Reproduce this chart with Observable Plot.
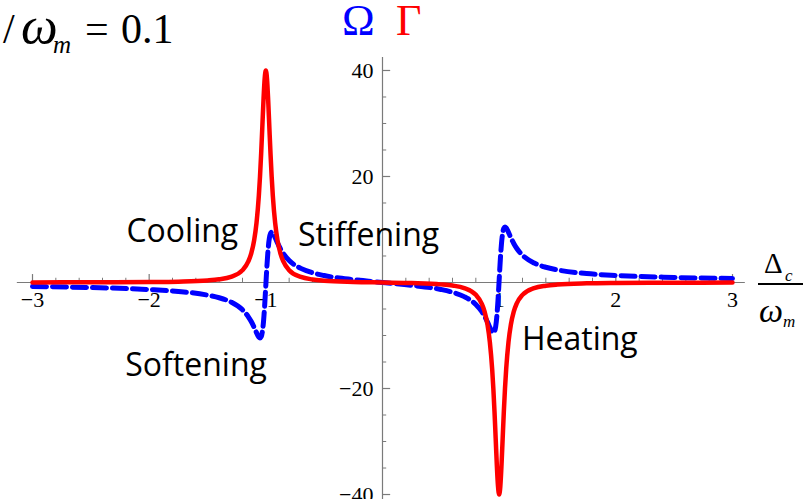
<!DOCTYPE html>
<html><head><meta charset="utf-8">
<script src="https://cdn.jsdelivr.net/npm/d3@7"></script>
<script src="https://cdn.jsdelivr.net/npm/@observablehq/plot@0.6"></script>
<style>body{margin:0;background:#fff}#chart{width:811px;height:499px}</style>
</head><body><div id="chart"></div>
<script>
// detuning Δc/ωm
const detuning = [-3,-2.5,-2,-1.75,-1.5,-1.4,-1.3,-1.2,-1.15,-1.125,-1.1,-1.08,-1.06,-1.05,-1.04,-1.03,-1.02,-1.01,-1,-0.99,-0.98,-0.97,-0.96,-0.95,-0.94,-0.92,-0.9,-0.875,-0.85,-0.8,-0.7,-0.6,-0.5,-0.25,0,
  0.25,0.5,0.6,0.7,0.8,0.85,0.875,0.9,0.92,0.94,0.95,0.96,0.97,0.98,0.99,1,1.01,1.02,1.03,1.04,1.05,1.06,1.08,1.1,1.125,1.15,1.2,1.3,1.4,1.5,1.75,2,2.5,3];
// Γ (red, solid)
const gamma = [0.019,0.036,0.089,0.164,0.38,0.598,1.062,2.332,3.978,5.495,7.977,11.21,16.37,19.98,24.37,29.39,34.46,38.44,39.98,38.43,34.45,29.38,24.36,19.97,16.36,11.21,7.97,5.49,3.97,2.32,1.05,0.576,0.352,0.113,0,
  -0.113,-0.352,-0.576,-1.05,-2.32,-3.97,-5.49,-7.97,-11.21,-16.36,-19.97,-24.36,-29.38,-34.45,-38.43,-39.98,-38.44,-34.46,-29.39,-24.37,-19.98,-16.37,-11.21,-7.977,-5.495,-3.978,-2.332,-1.062,-0.598,-0.38,-0.164,-0.089,-0.036,-0.019];
// Ω (blue, dashed)
const omega = [-0.75,-0.952,-1.331,-1.69,-2.38,-2.878,-3.678,-5.16,-6.465,-7.367,-8.476,-9.47,-10.32,-10.49,-10.25,-9.32,-7.39,-4.34,-0.5,3.34,6.39,8.32,9.25,9.49,9.32,8.47,7.47,6.36,5.46,4.15,2.66,1.838,1.31,0.53,0,
  -0.53,-1.31,-1.838,-2.66,-4.15,-5.46,-6.36,-7.47,-8.47,-9.32,-9.49,-9.25,-8.32,-6.39,-3.34,0.5,4.34,7.39,9.32,10.25,10.49,10.32,9.47,8.476,7.367,6.465,5.16,3.678,2.878,2.38,1.69,1.331,0.952,0.75];

const xTicks = [-3,-2,-1,1,2,3];
const xTickLabels = ["−3","−2","−1","1","2","3"];
const xMinor = [-2.8,-2.6,-2.4,-2.2,-1.8,-1.6,-1.4,-1.2,-0.8,-0.6,-0.4,-0.2,0.2,0.4,0.6,0.8,1.2,1.4,1.6,1.8,2.2,2.4,2.6,2.8];
const yTicks = [-40,-20,20,40];
const yTickLabels = ["−40","−20","20","40"];
const yMinor = [-35,-30,-25,-15,-10,-5,5,10,15,25,30,35];

const annLabels = ["Cooling","Stiffening","Softening","Heating"];
const annX = [-2.195,-0.725,-2.205,1.195];
const annY = [7.6,6.8,-17.6,-12.8];

const axisColor = "#7a7a7a";
const serif = "Liberation Serif, Times New Roman, serif";

const plot = Plot.plot({
  width: 811, height: 499,
  marginTop: 57, marginBottom: 0, marginLeft: 32, marginRight: 79,
  style: {background: "#fff", overflow: "visible"},
  x: {domain: [-3, 3], axis: null},
  y: {domain: [-40.94, 42.45], axis: null},
  marks: [
    Plot.ruleY([0], {x1: -3.13, x2: 3.11, stroke: axisColor, strokeWidth: 1.2}),
    Plot.ruleX([0], {y1: -40.94, y2: 42.45, stroke: axisColor, strokeWidth: 1.2}),
    Plot.ruleX(xTicks, {x: d => d, y1: 0, y2: 1.5, stroke: axisColor, strokeWidth: 1.2}),
    Plot.ruleX(xMinor, {x: d => d, y1: 0, y2: 0.8, stroke: axisColor, strokeWidth: 1}),
    Plot.ruleY(yTicks, {y: d => d, x1: 0, x2: 0.07, stroke: axisColor, strokeWidth: 1.2}),
    Plot.ruleY(yMinor, {y: d => d, x1: 0, x2: 0.036, stroke: axisColor, strokeWidth: 1}),
    Plot.text(xTickLabels, {x: xTicks, y: 0, text: d => d, dy: 24, lineAnchor: "bottom", textAnchor: "middle", fontFamily: serif, fontSize: 22, fill: "#000"}),
    Plot.text(yTickLabels, {x: 0, y: yTicks, text: d => d, dx: -9, lineAnchor: "middle", textAnchor: "end", fontFamily: serif, fontSize: 22, fill: "#000"}),
    Plot.text(annLabels, {x: annX, y: annY, text: d => d, lineAnchor: "bottom", textAnchor: "start", fontFamily: "Open Sans", fontSize: 32, fill: "#000"}),
    Plot.line(detuning, {x: detuning, y: omega, stroke: "#0000ff", strokeWidth: 5, strokeDasharray: "14,6", curve: "monotone-x"}),
    Plot.line(detuning, {x: detuning, y: gamma, stroke: "#ff0000", strokeWidth: 4.5, curve: "monotone-x"})
  ]
});

const svg = d3.select(plot);
// top-left parameter label (cropped in the original)
const t1 = svg.append("text").attr("y", 43).attr("text-anchor", "start").attr("font-family", serif).attr("font-size", 42).attr("fill", "#000");
t1.append("tspan").attr("x", 3).text("/");
t1.append("tspan").attr("x", 21).attr("font-style", "italic").attr("font-size", 52).text("ω");
t1.append("tspan").attr("x", 53).attr("dy", 10).attr("font-style", "italic").attr("font-size", 25).text("m");
t1.append("tspan").attr("x", 85).attr("dy", -10).text("=");
t1.append("tspan").attr("x", 121).text("0.1");
// legend Ω Γ
const t2 = svg.append("text").attr("y", 35).attr("text-anchor", "start").attr("font-family", serif).attr("font-size", 44);
t2.append("tspan").attr("x", 342).attr("fill", "#0000ff").text("Ω");
t2.append("tspan").attr("x", 396).attr("fill", "#ff0000").text("Γ");
// axis label Δc / ωm
const g = svg.append("g").attr("font-family", serif).attr("fill", "#000").attr("text-anchor", "start");
const t3 = g.append("text").attr("y", 273).attr("font-size", 29);
t3.append("tspan").attr("x", 764).text("Δ");
t3.append("tspan").attr("x", 785).attr("dy", 8).attr("font-size", 17).attr("font-style", "italic").text("c");
g.append("line").attr("x1", 758).attr("x2", 803).attr("y1", 284).attr("y2", 284).attr("stroke", "#000").attr("stroke-width", 2);
const t4 = g.append("text").attr("y", 322).attr("font-size", 34);
t4.append("tspan").attr("x", 759).attr("font-style", "italic").text("ω");
t4.append("tspan").attr("x", 783).attr("dy", 5).attr("font-size", 17).attr("font-style", "italic").text("m");

document.getElementById("chart").appendChild(plot);
</script>
</body></html>
